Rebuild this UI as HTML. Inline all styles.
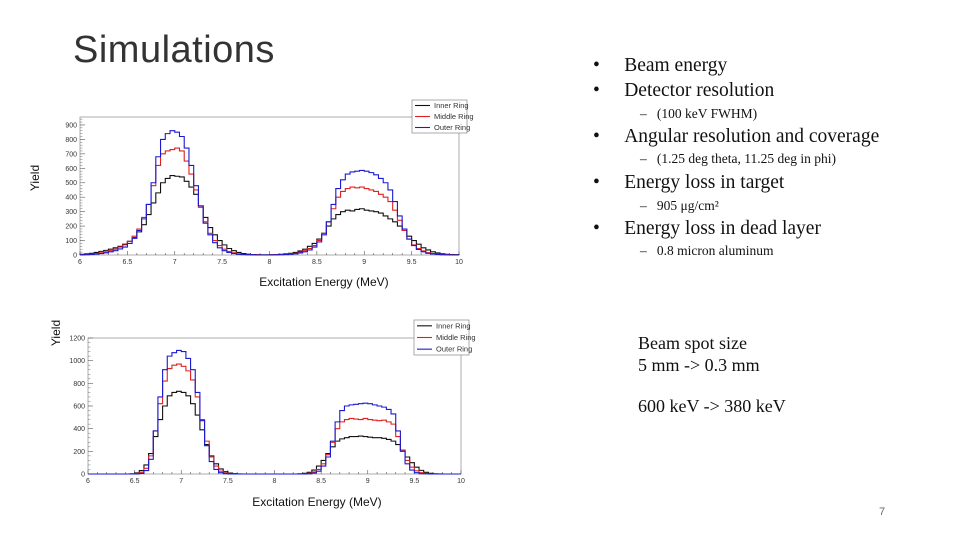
<!DOCTYPE html>
<html><head><meta charset="utf-8">
<style>
body{margin:0;width:960px;height:540px;background:#fff;overflow:hidden;position:relative;font-family:"Liberation Serif",serif}
.t{position:absolute;white-space:nowrap;color:#111}
.b{font-size:19.5px}
.s{font-size:13.5px}
svg{position:absolute;left:0;top:0}
</style></head><body>
<div class="t" style="left:73px;top:29px;font:38px 'Liberation Sans',sans-serif;color:#333;letter-spacing:0.5px">Simulations</div>
<div class="t b" style="left:593px;top:55px">•&nbsp;&nbsp;&nbsp;&nbsp;&nbsp;Beam energy</div>
<div class="t b" style="left:593px;top:80px">•&nbsp;&nbsp;&nbsp;&nbsp;&nbsp;Detector resolution</div>
<div class="t s" style="left:640px;top:106px">–&nbsp;&nbsp;&nbsp;(100 keV FWHM)</div>
<div class="t b" style="left:593px;top:126px">•&nbsp;&nbsp;&nbsp;&nbsp;&nbsp;Angular resolution and coverage</div>
<div class="t s" style="left:640px;top:151px">–&nbsp;&nbsp;&nbsp;(1.25 deg theta, 11.25 deg in phi)</div>
<div class="t b" style="left:593px;top:172px">•&nbsp;&nbsp;&nbsp;&nbsp;&nbsp;Energy loss in target</div>
<div class="t s" style="left:640px;top:198px">–&nbsp;&nbsp;&nbsp;905 μg/cm²</div>
<div class="t b" style="left:593px;top:218px">•&nbsp;&nbsp;&nbsp;&nbsp;&nbsp;Energy loss in dead layer</div>
<div class="t s" style="left:640px;top:243px">–&nbsp;&nbsp;&nbsp;0.8 micron aluminum</div>
<div class="t" style="left:638px;top:332px;font-size:18px;line-height:22px">Beam spot size<br>5 mm -&gt; 0.3 mm</div>
<div class="t" style="left:638px;top:396px;font-size:18px">600 keV -&gt; 380 keV</div>
<div class="t" style="left:879px;top:506px;font:11px 'Liberation Sans',sans-serif;color:#666">7</div>

<svg id="chart" width="960" height="540"></svg>
<script>
const xTicks=[6,6.5,7,7.5,8,8.5,9,9.5,10];
const xTickLabels=["6","6.5","7","7.5","8","8.5","9","9.5","10"];
const binStart=6, binWidth=0.05;
const topInner=[5,8,12,18,25,32,40,50,60,75,95,120,160,210,280,360,430,500,530,550,545,540,510,470,420,340,260,190,140,100,70,45,30,18,10,6,3,2,1,1,2,3,5,8,12,18,28,40,60,80,110,150,200,250,280,300,310,305,315,320,310,305,300,290,270,250,230,200,170,130,100,75,50,35,22,14,8,5,3,2];
const topMiddle=[2,4,6,10,15,22,30,40,55,70,95,130,180,260,350,480,620,700,720,730,740,720,650,560,450,330,230,150,100,65,40,25,15,8,4,2,1,1,0,0,1,2,3,5,8,12,20,30,45,65,100,150,230,320,400,440,460,470,465,470,460,450,440,420,400,370,310,240,170,110,70,45,28,16,10,6,3,2,1,0];
const topOuter=[1,2,4,6,10,15,22,30,42,55,80,115,170,250,350,500,680,800,840,860,850,820,740,620,480,340,220,140,85,50,30,18,10,5,3,2,1,0,0,0,0,1,2,3,5,8,14,22,35,55,90,140,230,350,460,520,560,575,580,585,580,570,555,530,500,450,370,270,180,110,65,38,22,12,7,4,2,1,0,0];
const botInner=[0,0,0,0,0,0,0,0,0,2,10,30,80,180,330,480,600,690,720,730,720,690,620,520,390,260,160,90,45,20,8,3,1,0,0,0,0,0,0,0,0,0,0,0,0,2,6,15,35,70,120,180,240,290,310,320,330,330,335,330,325,320,320,315,305,290,260,210,150,100,60,32,15,6,2,1,0,0,0,0];
const botMiddle=[0,0,0,0,0,0,0,0,0,0,3,15,50,160,380,620,820,930,960,970,950,910,830,680,480,290,150,70,25,8,2,0,0,0,0,0,0,0,0,0,0,0,0,0,0,0,2,6,18,40,90,170,280,400,460,480,490,485,480,490,480,475,470,475,460,440,330,210,120,60,28,12,4,1,0,0,0,0,0,0];
const botOuter=[0,0,0,0,0,0,0,0,0,0,0,5,30,130,380,680,920,1040,1070,1090,1080,1020,920,720,470,250,110,40,12,3,0,0,0,0,0,0,0,0,0,0,0,0,0,0,0,0,0,2,8,25,70,150,290,460,560,600,610,615,620,625,620,610,600,590,570,530,380,200,90,35,12,3,1,0,0,0,0,0,0,0];
const topYTicks=[0,100,200,300,400,500,600,700,800,900];
const botYTicks=[0,200,400,600,800,1000,1200];
const legendLabels=["Inner Ring","Middle Ring","Outer Ring"];
const colors=["#111","#e02020","#1a1ad0"];

const svg=document.getElementById('chart');
const NS='http://www.w3.org/2000/svg';
function mk(tag,attrs,parent){const e=document.createElementNS(NS,tag);for(const k in attrs)e.setAttribute(k,attrs[k]);(parent||svg).appendChild(e);return e;}

function drawChart(cfg){
  const g=mk('g',{});
  
  
  const xs=v=>cfg.x0+(v-6)/4*(cfg.x1-cfg.x0);
  const ys=v=>cfg.y1-v/cfg.ymax*(cfg.y1-cfg.y0);
  const fr=mk('rect',{x:cfg.x0,y:cfg.y0,width:cfg.x1-cfg.x0,height:cfg.y1-cfg.y0,fill:'none',stroke:'#999','stroke-width':0.8},g);
  
  
  for(let v=6;v<=10.0001;v+=0.1){
    const major=Math.abs(v*2-Math.round(v*2))<1e-6;
    mk('line',{x1:xs(v),x2:xs(v),y1:cfg.y1,y2:cfg.y1-(major?4:2),stroke:'#555','stroke-width':0.6},g);
  }
  xTicks.forEach((v,i)=>{
    const t=mk('text',{x:xs(v),y:cfg.y1+9,'font-size':7,'font-family':'Liberation Sans, sans-serif','text-anchor':'middle',fill:'#333'},g);
    t.textContent=xTickLabels[i];
    
    
  });
  cfg.yTicks.forEach(v=>{
    mk('line',{x1:cfg.x0,x2:cfg.x0+5,y1:ys(v),y2:ys(v),stroke:'#555','stroke-width':0.6},g);
    const t=mk('text',{x:cfg.x0-3,y:ys(v)+2.5,'font-size':7,'font-family':'Liberation Sans, sans-serif','text-anchor':'end',fill:'#333'},g);
    t.textContent=String(v);
    
    
  });
  const minorStep=cfg.yTicks[1]/5;
  for(let v=0;v<=cfg.ymax;v+=minorStep){mk('line',{x1:cfg.x0,x2:cfg.x0+2.5,y1:ys(v),y2:ys(v),stroke:'#777','stroke-width':0.5},g);}
  cfg.series.forEach((arr,si)=>{
    let d='M'+xs(binStart)+','+ys(0);
    arr.forEach((v,i)=>{const a=binStart+i*binWidth;d+=' L'+xs(a)+','+ys(v)+' L'+xs(a+binWidth)+','+ys(v);});
    d+=' L'+xs(binStart+arr.length*binWidth)+','+ys(0);
    const p=mk('path',{d:d,fill:'none',stroke:colors[si],'stroke-width':1.1},g);
    
    
  });
  const L=cfg.legend;
  const lg=mk('g',{},g);
  
  
  mk('rect',{x:L.x,y:L.y,width:L.w,height:L.h,fill:'#fff',stroke:'#888','stroke-width':0.7},lg);
  legendLabels.forEach((lab,i)=>{
    const yy=L.y+L.h*(i+0.5)/3;
    mk('line',{x1:L.x+3,x2:L.x+18,y1:yy,y2:yy,stroke:colors[i],'stroke-width':1.1},lg);
    const t=mk('text',{x:L.x+22,y:yy+2.5,'font-size':7.5,'font-family':'Liberation Sans, sans-serif',fill:'#333'},lg);
    t.textContent=lab;
    
    
  });
  const xl=mk('text',{x:cfg.xlab[0],y:cfg.xlab[1],'font-size':12,'font-family':'Liberation Sans, sans-serif','text-anchor':'middle',fill:'#111'},g);
  xl.textContent='Excitation Energy (MeV)';
  
  
  const yl=mk('text',{x:cfg.ylab[0],y:cfg.ylab[1],'font-size':12,'font-family':'Liberation Sans, sans-serif','text-anchor':'middle',fill:'#111',transform:'rotate(-90 '+cfg.ylab[0]+' '+cfg.ylab[1]+')'},g);
  yl.textContent='Yield';
  
  
}
drawChart({name:'top-histogram',x0:80,x1:459,y0:117,y1:255,ymax:955,yTicks:topYTicks,series:[topInner,topMiddle,topOuter],legend:{x:412,y:100,w:55,h:33},xlab:[324,286],ylab:[39,178]});
drawChart({name:'bottom-histogram',x0:88,x1:461,y0:338,y1:474,ymax:1200,yTicks:botYTicks,series:[botInner,botMiddle,botOuter],legend:{x:414,y:320,w:55,h:35},xlab:[317,506],ylab:[60,333]});
</script>
</body></html>
